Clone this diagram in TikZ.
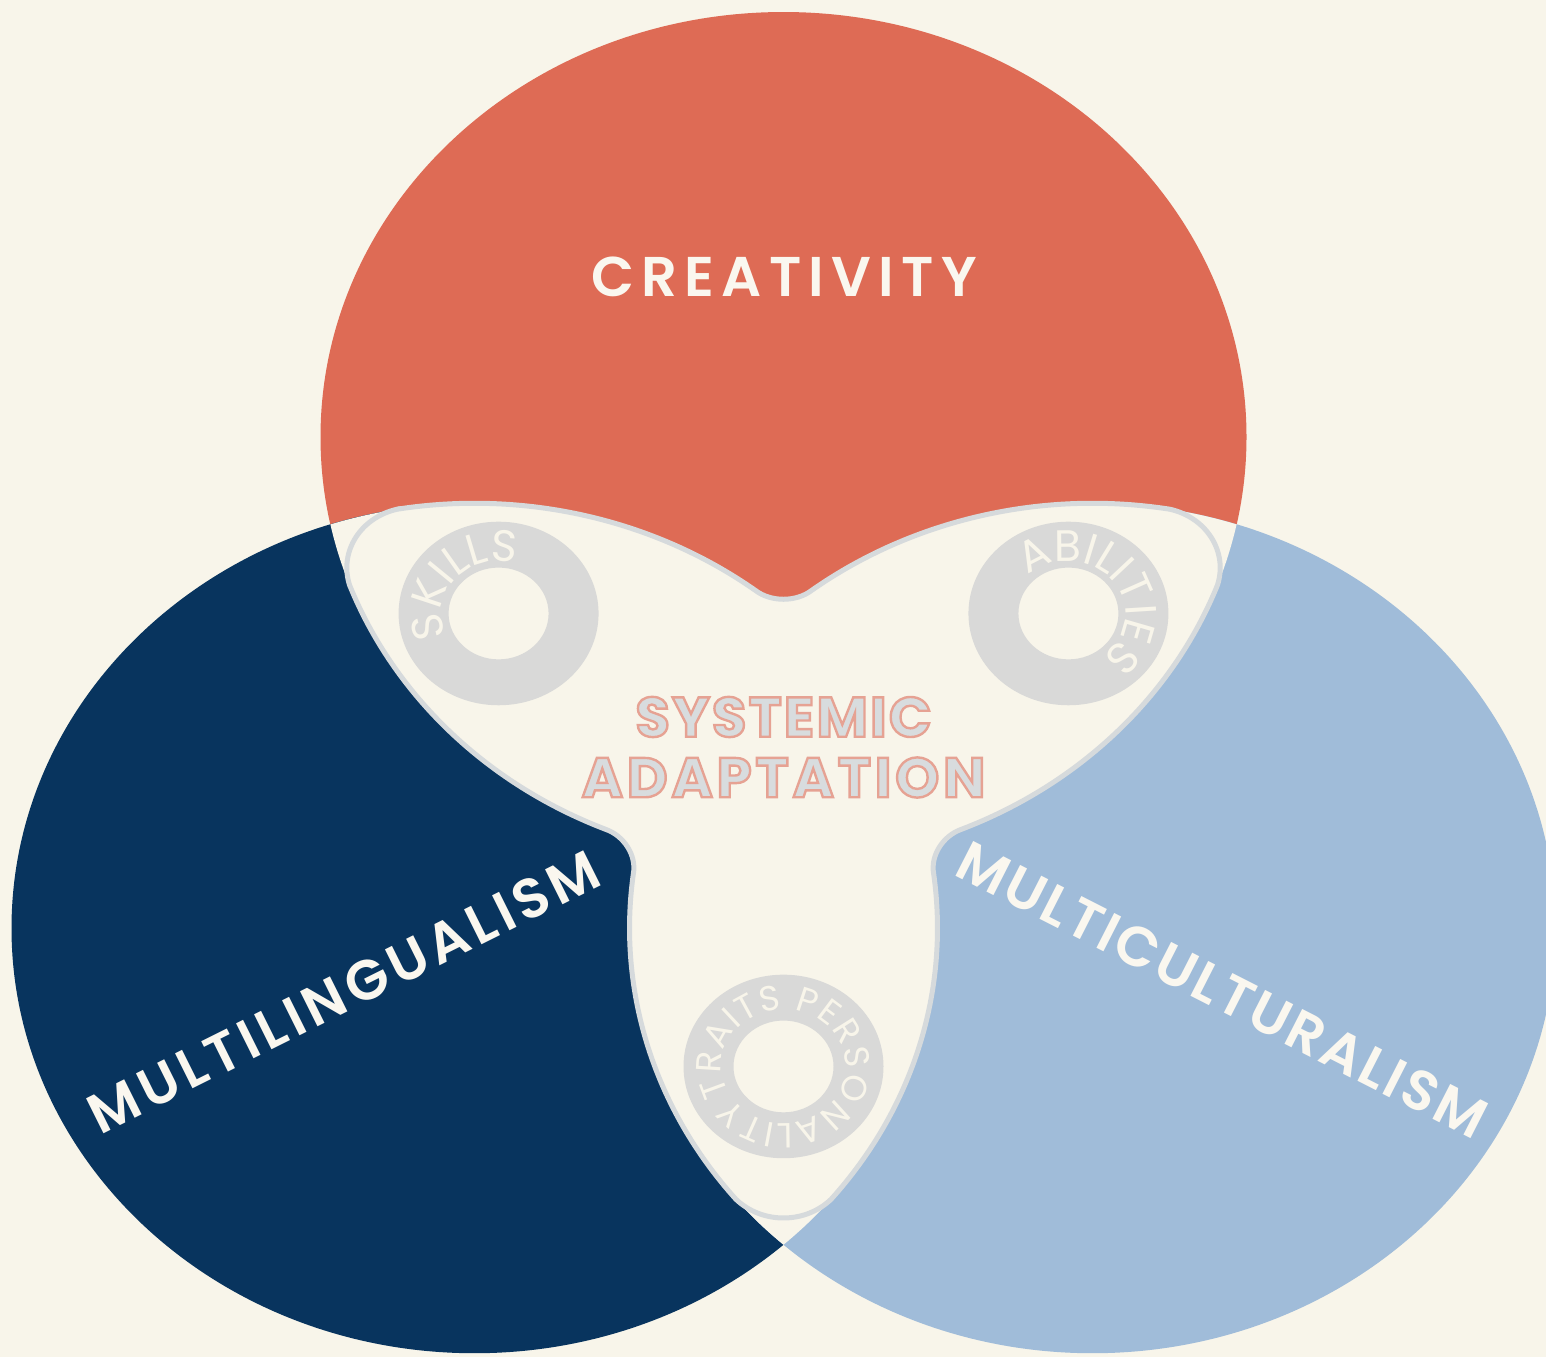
\documentclass[tikz,border=0pt]{standalone}
\usepackage{fontspec}
\setmainfont{Poppins}
\newfontfamily\labelfont{Poppins}[UprightFont=* SemiBold, LetterSpace=9]
\newfontfamily\titlefont{Poppins}[UprightFont=* Bold]
\newfontfamily\ringfont{Poppins}
\usetikzlibrary{calc,decorations.text}

\definecolor{bgcream}{HTML}{F8F5EA}
\definecolor{coral}{HTML}{DE6B55}
\definecolor{navy}{HTML}{08345E}
\definecolor{skyblue}{HTML}{A0BCD9}
\definecolor{ringgray}{HTML}{D9D9D8}
\definecolor{edgegray}{HTML}{D6DADC}
\definecolor{labelwhite}{HTML}{FAF7EF}
\definecolor{fillgray}{HTML}{D8DCDE}

% glyphs filled in the current colour and stroked with a thin pink rim
\newcommand\rimtext[1]{\special{pdf:literal direct 0.902 0.635 0.576 RG 2.4 w 2 Tr}#1\special{pdf:literal direct 0 Tr}}

\begin{document}
\begin{tikzpicture}[x=1pt,y=1pt,
  circlelabel/.style={text=labelwhite, inner sep=0pt, font=\labelfont\fontsize{56}{56}\selectfont},
  coretext/.style={text=fillgray, inner sep=0pt, font=\titlefont\fontsize{56}{56}\selectfont},
  ringband/.style={fill=ringgray, even odd rule},
  blob/.style={fill=bgcream, draw=edgegray, line width=5pt}]

\useasboundingbox (0,0) rectangle (1546,-1357);
\fill[bgcream] (0,0) rectangle (1546,-1357);

\begin{scope}[yscale=0.9179]
  % centres of the three circles and of the figure
  \coordinate (G) at (783.5,-832.9);
  \coordinate (A) at (783.5,-476.1);
  \coordinate (B) at (474.5,-1011.3);
  \coordinate (C) at (1092.5,-1011.3);

  \fill[coral]   (A) circle[radius=463];
  \fill[navy]    (B) circle[radius=463];
  \fill[skyblue] (C) circle[radius=463];

  % crossing points of the circle outlines
  \coordinate (PAB) at ($(A)+(191.87:463)$);
  \coordinate (PAC) at ($(C)+(71.87:463)$);
  \coordinate (PBC) at ($(B)+(-48.13:463)$);
  \coordinate (TA)  at ($(B)+(48.13:463)$);
  \coordinate (TB)  at ($(C)+(168.13:463)$);
  \coordinate (TC)  at ($(A)+(288.13:463)$);

  % union of the pairwise overlaps
  \fill[bgcream] (PAB) arc[start angle=108.13, end angle=48.13, radius=463]
    arc[start angle=131.87, end angle=71.87, radius=463]
    arc[start angle=348.13, end angle=288.13, radius=463]
    arc[start angle=11.87, end angle=-48.13, radius=463]
    arc[start angle=228.13, end angle=168.13, radius=463]
    arc[start angle=251.87, end angle=191.87, radius=463] -- cycle;

  % end points of the trimmed arcs
  \coordinate (s1) at ($(B)+(99.63:463)$);
  \coordinate (e1) at ($(B)+(52.63:463)$);
  \coordinate (s2) at ($(C)+(127.37:463)$);
  \coordinate (e2) at ($(C)+(80.37:463)$);
  \coordinate (s3) at ($(A)+(339.63:463)$);
  \coordinate (e3) at ($(A)+(292.63:463)$);
  \coordinate (s4) at ($(B)+(7.37:463)$);
  \coordinate (e4) at ($(B)+(-39.63:463)$);
  \coordinate (s5) at ($(C)+(219.63:463)$);
  \coordinate (e5) at ($(C)+(172.63:463)$);
  \coordinate (s6) at ($(A)+(247.37:463)$);
  \coordinate (e6) at ($(A)+(200.37:463)$);

  % rounded core shape with its grey rim
  \path[blob] (s1) arc[start angle=99.63, end angle=52.63, radius=463]
    .. controls ($(e1)!0.55!(TA)$) and ($(s2)!0.55!(TA)$) .. (s2)
    arc[start angle=127.37, end angle=80.37, radius=463]
    .. controls ($(e2)!0.55!(PAC)$) and ($(s3)!0.55!(PAC)$) .. (s3)
    arc[start angle=339.63, end angle=292.63, radius=463]
    .. controls ($(e3)!0.55!(TC)$) and ($(s4)!0.55!(TC)$) .. (s4)
    arc[start angle=7.37, end angle=-39.63, radius=463]
    .. controls ($(e4)!0.55!(PBC)$) and ($(s5)!0.55!(PBC)$) .. (s5)
    arc[start angle=219.63, end angle=172.63, radius=463]
    .. controls ($(e5)!0.55!(TB)$) and ($(s6)!0.55!(TB)$) .. (s6)
    arc[start angle=247.37, end angle=200.37, radius=463]
    .. controls ($(e6)!0.55!(PAB)$) and ($(s1)!0.55!(PAB)$) .. cycle;

  % three rings
  \coordinate (RS) at ($(G)+(150:329)$);
  \coordinate (RA) at ($(G)+(30:329)$);
  \coordinate (RP) at ($(G)+(270:329)$);
  \fill[ringband] (RS) circle[radius=100] circle[radius=50];
  \fill[ringband] (RA) circle[radius=100] circle[radius=50];
  \fill[ringband] (RP) circle[radius=100] circle[radius=50];

  \path[decorate, decoration={text along path, text align=center, text color=bgcream,
      text={|\ringfont\fontsize{44}{44}\selectfont|SKILLS}}]
    (RS) ++(317:57) arc[start angle=317, end angle=-43, radius=57];
  \path[decorate, decoration={text along path, text align=center, text color=bgcream,
      text={|\ringfont\fontsize{44}{44}\selectfont|ABILITIES}}]
    (RA) ++(222.5:57) arc[start angle=222.5, end angle=-137.5, radius=57];
  \path[decorate, decoration={text along path, text align=fit to path, text color=bgcream,
      text={|\ringfont\fontsize{35}{35}\selectfont|TRAITS PERSONALITY}}]
    (RP) ++(208:62) arc[start angle=208, end angle=-146, radius=62];
\end{scope}

% circle titles
\node[circlelabel] (creativity) at (784,-277) {\addfontfeature{LetterSpace=13}CREATIVITY};
\node[circlelabel, rotate=26.5] (multilingualism) at (344,-992) {MULTILINGUALISM};
\node[circlelabel, rotate=-27] (multiculturalism) at (1222,-990) {\addfontfeature{LetterSpace=5}MULTICULTURALISM};

% rimmed core title
\node[coretext] (systemic) at (783.5,-717) {\addfontfeature{LetterSpace=4}\rimtext{SYSTEMIC}};
\node[coretext] (adaptation) at (783.5,-777.5) {\addfontfeature{LetterSpace=7}\rimtext{ADAPTATION}};
\end{tikzpicture}
\end{document}
